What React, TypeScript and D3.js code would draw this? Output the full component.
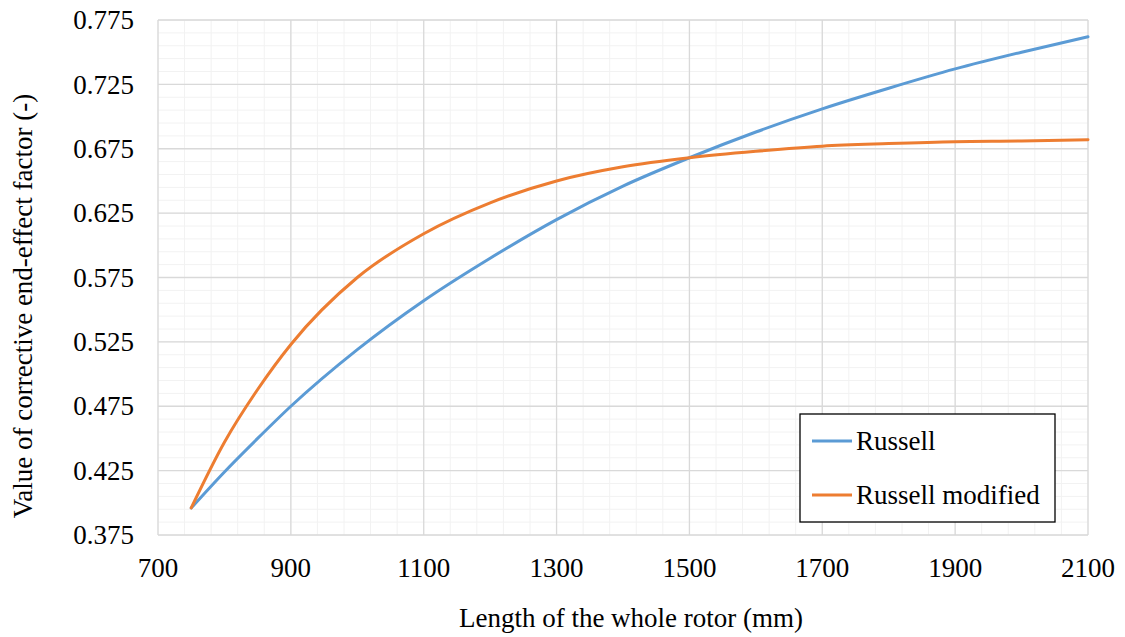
import React, { useEffect, useRef } from 'react';
import * as d3 from 'd3';

// rotor length (mm)
const lengths = [750, 800, 850, 900, 1000, 1100, 1200, 1300, 1400, 1500, 1600, 1700, 1800, 1900, 2000, 2100];
const russell = [0.396, 0.424, 0.45, 0.475, 0.519, 0.557, 0.59, 0.62, 0.646, 0.668, 0.688, 0.706, 0.722, 0.737, 0.75, 0.762];
const russellModified = [0.396, 0.447, 0.488, 0.523, 0.575, 0.609, 0.633, 0.65, 0.661, 0.668, 0.673, 0.677, 0.679, 0.6805, 0.681, 0.682];

const xTicks = [700, 900, 1100, 1300, 1500, 1700, 1900, 2100];
const yTicks = [0.375, 0.425, 0.475, 0.525, 0.575, 0.625, 0.675, 0.725, 0.775];

const seriesNames = ['Russell', 'Russell modified'];
const colors = ['#5B9BD5', '#ED7D31'];

const W = 1125;
const H = 637;
const FONT = "'Times New Roman', 'Liberation Serif', Tinos, 'DejaVu Serif', serif";

export default function App() {
  const svgRef = useRef<SVGSVGElement>(null);

  useEffect(() => {
    const svg = d3.select(svgRef.current);
    svg.selectAll('*').remove();

    const margin = { top: 20, right: 37, bottom: 102, left: 158 };
    const w = W - margin.left - margin.right;
    const h = H - margin.top - margin.bottom;

    const g = svg.append('g').attr('transform', `translate(${margin.left},${margin.top})`);

    const x = d3.scaleLinear().domain([700, 2100]).range([0, w]);
    const y = d3.scaleLinear().domain([0.375, 0.775]).range([h, 0]);

    // minor grid
    d3.range(700, 2100.1, 40).forEach(v => {
      g.append('line')
        .attr('x1', x(v)).attr('x2', x(v)).attr('y1', 0).attr('y2', h)
        .attr('stroke', '#F2F2F2').attr('stroke-width', 1);
    });
    d3.range(0, 41).map(i => 0.375 + i * 0.01).forEach(v => {
      g.append('line')
        .attr('x1', 0).attr('x2', w).attr('y1', y(v)).attr('y2', y(v))
        .attr('stroke', '#F2F2F2').attr('stroke-width', 1);
    });

    // major grid
    xTicks.forEach(v => {
      g.append('line')
        .attr('x1', x(v)).attr('x2', x(v)).attr('y1', 0).attr('y2', h)
        .attr('stroke', '#D9D9D9').attr('stroke-width', 1.3);
    });
    yTicks.forEach(v => {
      g.append('line')
        .attr('x1', 0).attr('x2', w).attr('y1', y(v)).attr('y2', y(v))
        .attr('stroke', '#D9D9D9').attr('stroke-width', 1.3);
    });

    const txt = (sel: any) => sel.style('font-family', FONT).attr('font-size', 27).attr('fill', '#000');

    // tick labels
    xTicks.forEach(v => {
      g.append('text')
        .attr('x', x(v)).attr('y', h + 42)
        .attr('text-anchor', 'middle')
        .call(txt)
        .text(v);
    });
    yTicks.forEach(v => {
      g.append('text')
        .attr('x', -24).attr('y', y(v))
        .attr('dy', '0.34em')
        .attr('text-anchor', 'end')
        .call(txt)
        .text(v.toFixed(3));
    });

    // lines
    [russell, russellModified].forEach((vals, si) => {
      const line = d3.line<number>()
        .x((d, i) => x(lengths[i]))
        .y(d => y(d))
        .curve(d3.curveMonotoneX);
      g.append('path')
        .datum(vals)
        .attr('d', line)
        .attr('fill', 'none')
        .attr('stroke', colors[si])
        .attr('stroke-width', 3)
        .attr('stroke-linecap', 'round');
    });

    // axis titles
    svg.append('text')
      .attr('x', 631).attr('y', 627)
      .attr('text-anchor', 'middle')
      .call(txt)
      .text('Length of the whole rotor (mm)');
    svg.append('text')
      .attr('transform', 'translate(32, 306) rotate(-90)')
      .attr('text-anchor', 'middle')
      .call(txt)
      .text('Value of corrective end-effect factor (-)');

    // legend
    const lg = svg.append('g').attr('transform', 'translate(800,414)');
    lg.append('rect')
      .attr('width', 255).attr('height', 108)
      .attr('fill', '#fff').attr('stroke', '#000').attr('stroke-width', 1.3);
    seriesNames.forEach((name, i) => {
      const cy = 27 + i * 54;
      lg.append('line')
        .attr('x1', 12).attr('x2', 52).attr('y1', cy).attr('y2', cy)
        .attr('stroke', colors[i]).attr('stroke-width', 3);
      lg.append('text')
        .attr('x', 56).attr('y', cy).attr('dy', '0.34em')
        .call(txt)
        .text(name);
    });
  }, []);

  return (
    <div style={{ position: 'absolute', left: 0, top: 0 }}>
      <svg ref={svgRef} width={W} height={H} style={{ display: 'block', background: '#fff' }} />
    </div>
  );
}
